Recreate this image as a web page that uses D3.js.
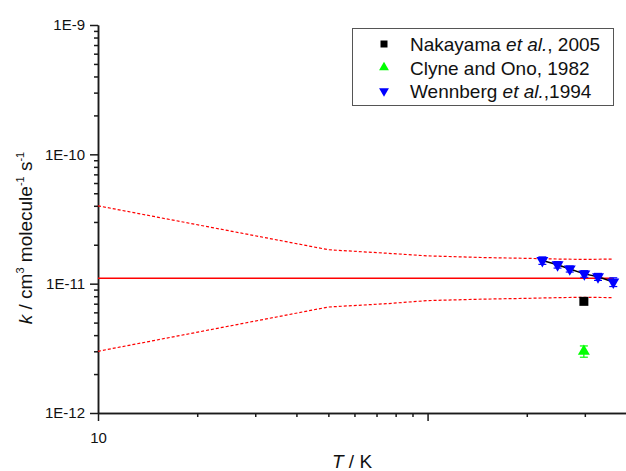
<!DOCTYPE html>
<html lang="en">
<head>
<meta charset="UTF-8">
<script src="https://d3js.org/d3.v7.min.js"></script>
<style>
  body { margin: 0; background: #fff; }
  svg text { font-family: "Liberation Sans", Arial, sans-serif; fill: #111; }
</style>
</head>
<body>
<svg id="svg" width="626" height="471"></svg>
<script>
// recommended value and its uncertainty band
var fitT = [10, 365];
var fitK = [1.1e-11, 1.1e-11];
var bandT = [10, 50, 75, 100, 150, 200, 250, 300, 365];
var bandUpper = [4.0e-11, 1.83e-11, 1.72e-11, 1.64e-11, 1.59e-11, 1.57e-11, 1.55e-11, 1.54e-11, 1.55e-11];
var bandLower = [3.0e-12, 6.6e-12, 7.0e-12, 7.4e-12, 7.6e-12, 7.7e-12, 7.8e-12, 7.85e-12, 7.8e-12];

// experimental data
var nakayamaT = [298];
var nakayamaK = [7.3e-12];
var clyneT = [298];
var clyneK = [3.0e-12];
var clyneErr = [0.3e-12];
var wennbergT = [223, 248, 270, 299, 329, 366];
var wennbergK = [1.51e-11, 1.40e-11, 1.30e-11, 1.19e-11, 1.13e-11, 1.03e-11];
var wennbergErr = [0.1e-11, 0.08e-11, 0.07e-11, 0.07e-11, 0.07e-11, 0.08e-11];

var yMajor = [1e-12, 1e-11, 1e-10, 1e-9];
var yLabels = ["1E-12", "1E-11", "1E-10", "1E-9"];
var xMajor = [10, 100];
var xLabels = ["10", ""];

var svg = d3.select("#svg");

var x = d3.scaleLog().domain([10, 400]).range([98, 626]);
var y = d3.scaleLog().domain([1e-12, 1e-9]).range([413, 25]);

// minor ticks 2..9 of each decade
var yMinor = [];
[1e-12, 1e-11, 1e-10].forEach(function (d) {
  for (var i = 2; i < 10; i++) yMinor.push(d * i);
});
var xMinor = [];
[10, 100].forEach(function (d) {
  for (var i = 2; i < 10; i++) if (d * i < 400) xMinor.push(d * i);
});

var axisColor = "#1a1a1a";

function styleAxis(g) {
  g.selectAll("path, line").attr("stroke", axisColor).attr("stroke-width", 1.5);
  g.selectAll("text").attr("font-size", 15).attr("fill", axisColor)
    .attr("font-family", "'Liberation Sans', Arial, sans-serif");
}

// y axis
svg.append("g")
  .attr("transform", "translate(98,0)")
  .call(d3.axisLeft(y).tickValues(yMinor).tickSize(4).tickFormat("").tickSizeOuter(0))
  .call(styleAxis);
svg.append("g")
  .attr("transform", "translate(98,0)")
  .call(d3.axisLeft(y).tickValues(yMajor).tickSize(8).tickPadding(5).tickSizeOuter(0)
    .tickFormat(function (d, i) { return yLabels[i]; }))
  .call(styleAxis);

// x axis
svg.append("g")
  .attr("transform", "translate(0,413)")
  .call(d3.axisBottom(x).tickValues(xMinor).tickSize(4).tickFormat("").tickSizeOuter(0))
  .call(styleAxis);
svg.append("g")
  .attr("transform", "translate(0,413)")
  .call(d3.axisBottom(x).tickValues(xMajor).tickSize(8).tickPadding(11).tickSizeOuter(0)
    .tickFormat(function (d, i) { return xLabels[i]; }))
  .call(styleAxis);

// axis titles
var xt = svg.append("text")
  .attr("x", 352).attr("y", 468)
  .attr("text-anchor", "middle")
  .attr("font-size", 19);
xt.append("tspan").attr("font-style", "italic").text("T");
xt.append("tspan").text(" / K");

var yt = svg.append("text")
  .attr("transform", "translate(32,238) rotate(-90)")
  .attr("text-anchor", "middle")
  .attr("font-size", 19);
yt.append("tspan").attr("font-style", "italic").text("k");
yt.append("tspan").text(" / cm");
yt.append("tspan").attr("font-size", 11).attr("dy", -8).text("3");
yt.append("tspan").attr("dy", 8).text(" molecule");
yt.append("tspan").attr("font-size", 11).attr("dy", -8).text("-1");
yt.append("tspan").attr("dy", 8).text(" s");
yt.append("tspan").attr("font-size", 11).attr("dy", -8).text("-1");

// lines
var line = d3.line()
  .x(function (d) { return x(d[0]); })
  .y(function (d) { return y(d[1]); });

svg.append("path")
  .datum(d3.zip(bandT, bandUpper))
  .attr("d", line).attr("fill", "none")
  .attr("stroke", "#ff0000").attr("stroke-width", 1.2).attr("stroke-dasharray", "3,2");
svg.append("path")
  .datum(d3.zip(bandT, bandLower))
  .attr("d", line).attr("fill", "none")
  .attr("stroke", "#ff0000").attr("stroke-width", 1.2).attr("stroke-dasharray", "3,2");
svg.append("path")
  .datum(d3.zip(fitT, fitK))
  .attr("d", line).attr("fill", "none")
  .attr("stroke", "#ff0000").attr("stroke-width", 1.5);

// error bars
function errorBars(T, K, E, color) {
  var g = svg.append("g").attr("stroke", color).attr("stroke-width", 1.2);
  T.forEach(function (t, i) {
    var cx = x(t), top = y(K[i] + E[i]), bot = y(K[i] - E[i]);
    g.append("line").attr("x1", cx).attr("x2", cx).attr("y1", top).attr("y2", bot);
    g.append("line").attr("x1", cx - 4).attr("x2", cx + 4).attr("y1", top).attr("y2", top);
    g.append("line").attr("x1", cx - 4).attr("x2", cx + 4).attr("y1", bot).attr("y2", bot);
  });
}
errorBars(wennbergT, wennbergK, wennbergErr, "#0000ff");
errorBars(clyneT, clyneK, clyneErr, "#00ff00");

// black line through Wennberg data
svg.append("path")
  .datum(d3.zip(wennbergT, wennbergK))
  .attr("d", line).attr("fill", "none")
  .attr("stroke", "#000").attr("stroke-width", 1.5);

var square = d3.symbol().type(d3.symbolSquare);
var tri = d3.symbol().type(d3.symbolTriangle);

svg.selectAll(".nak").data(d3.zip(nakayamaT, nakayamaK)).enter()
  .append("path")
  .attr("d", square.size(81)())
  .attr("transform", function (d) { return "translate(" + x(d[0]) + "," + y(d[1]) + ")"; })
  .attr("fill", "#000");

svg.selectAll(".cly").data(d3.zip(clyneT, clyneK)).enter()
  .append("path")
  .attr("d", tri.size(62)())
  .attr("transform", function (d) { return "translate(" + x(d[0]) + "," + y(d[1]) + ")"; })
  .attr("fill", "#00ff00");

svg.selectAll(".wen").data(d3.zip(wennbergT, wennbergK)).enter()
  .append("path")
  .attr("d", tri.size(62)())
  .attr("transform", function (d) { return "translate(" + x(d[0]) + "," + y(d[1]) + ") rotate(180)"; })
  .attr("fill", "#0000ff");

// legend
var legend = svg.append("g");
legend.append("rect")
  .attr("x", 352.5).attr("y", 28.5).attr("width", 261).attr("height", 77)
  .attr("fill", "#fff").attr("stroke", "#555").attr("stroke-width", 1);

var rows = [
  { y: 44, sym: square.size(49)(), fill: "#000", rot: 0, parts: [["Nakayama ", false], ["et al.", true], [", 2005", false]] },
  { y: 67.5, sym: tri.size(42)(), fill: "#00ff00", rot: 0, parts: [["Clyne and Ono, 1982", false]] },
  { y: 91, sym: tri.size(42)(), fill: "#0000ff", rot: 180, parts: [["Wennberg ", false], ["et al.", true], [",1994", false]] }
];
rows.forEach(function (r) {
  legend.append("path")
    .attr("d", r.sym)
    .attr("transform", "translate(384," + r.y + ") rotate(" + r.rot + ")")
    .attr("fill", r.fill);
  var t = legend.append("text")
    .attr("x", 410).attr("y", r.y + 7)
    .attr("font-size", 19);
  r.parts.forEach(function (p) {
    t.append("tspan").attr("font-style", p[1] ? "italic" : "normal").text(p[0]);
  });
});
</script>
</body>
</html>
